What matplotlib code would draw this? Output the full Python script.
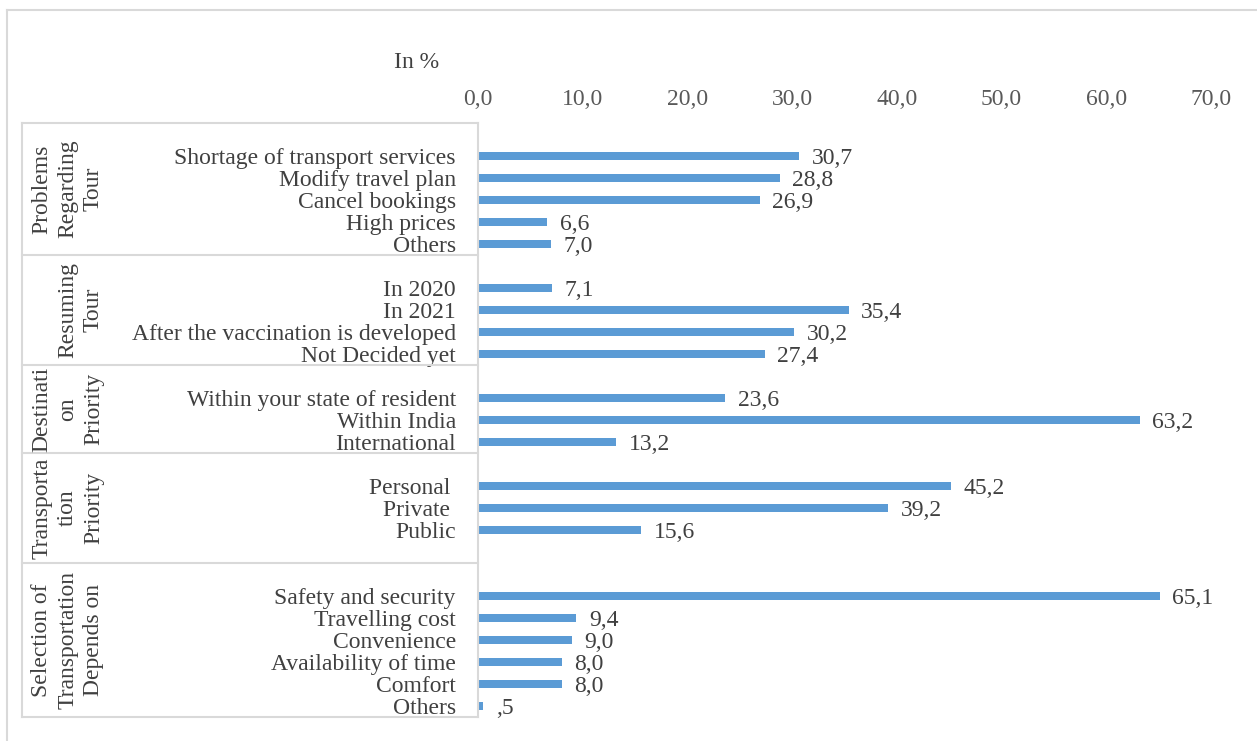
#!/usr/bin/env python3
import matplotlib.pyplot as plt
import numpy as np
from matplotlib.lines import Line2D

# grupos de la encuesta (etiqueta del grupo, categorias, porcentajes)
grupo_1 = "Problems\nRegarding\nTour"
cat_1 = ["Shortage of transport services", "Modify travel plan", "Cancel bookings",
         "High prices", "Others"]
val_1 = [30.7, 28.8, 26.9, 6.6, 7.0]

grupo_2 = "Resuming\nTour"
cat_2 = ["In 2020", "In 2021", "After the vaccination is developed", "Not Decided yet"]
val_2 = [7.1, 35.4, 30.2, 27.4]

grupo_3 = "Destinati\non\nPriority"
cat_3 = ["Within your state of resident", "Within India", "International"]
val_3 = [23.6, 63.2, 13.2]

grupo_4 = "Transporta\ntion\nPriority"
cat_4 = ["Personal ", "Private ", "Public"]
val_4 = [45.2, 39.2, 15.6]

grupo_5 = "Selection of\nTransportation\nDepends on"
cat_5 = ["Safety and security", "Travelling cost", "Convenience",
         "Availability of time", "Comfort", "Others"]
val_5 = [65.1, 9.4, 9.0, 8.0, 8.0, 0.5]

ticks_x = [0, 10, 20, 30, 40, 50, 60, 70]

AZUL = "#5B9BD5"
TEXTO = "#404040"
BORDE = "#D9D9D9"
FS = 17


def etiqueta(v):
    s = f"{v:.1f}".replace(".", ",")
    if s.startswith("0,"):
        s = s[1:]
    return s


def grafico():
    plt.rcParams["font.family"] = ["Liberation Serif", "DejaVu Serif"]
    plt.rcParams["font.size"] = FS

    # cada grupo lleva una fila vacia arriba; el cuarto tambien una abajo
    grupos = [
        (grupo_1, [""] + cat_1, [np.nan] + val_1),
        (grupo_2, [""] + cat_2, [np.nan] + val_2),
        (grupo_3, [""] + cat_3, [np.nan] + val_3),
        (grupo_4, [""] + cat_4 + [""], [np.nan] + val_4 + [np.nan]),
        (grupo_5, [""] + cat_5, [np.nan] + val_5),
    ]
    cats, vals, limites = [], [], [-0.5]
    for _, c, v in grupos:
        cats += c
        vals += v
        limites.append(len(cats) - 0.5)
    y = np.arange(len(cats))
    vals = np.array(vals, dtype=float)

    fig = plt.figure(figsize=(12.57, 7.41), dpi=100)
    ax = fig.add_axes([478 / 1257, 1 - 717 / 741, 733 / 1257, 594 / 741])

    ax.barh(y, np.nan_to_num(vals), height=0.36, color=AZUL)
    for yi, v in zip(y, vals):
        if not np.isnan(v):
            ax.annotate(etiqueta(v), (v, yi), xytext=(9, -1.5), textcoords="offset points",
                        ha="left", va="center", color=TEXTO, fontsize=FS)

    ax.set_xlim(0, 70)
    ax.set_ylim(len(cats) - 0.5, -0.5)
    ax.xaxis.tick_top()
    ax.set_xticks(ticks_x)
    ax.set_xticklabels([f"{t:.1f}".replace(".", ",") for t in ticks_x])
    ax.tick_params(axis="x", length=0, pad=9.5, colors="#595959", labelsize=FS)
    ax.set_yticks(y)
    ax.set_yticklabels(cats)
    ax.tick_params(axis="y", length=0, pad=16, colors=TEXTO, labelsize=FS)
    for s in ["top", "right", "bottom"]:
        ax.spines[s].set_visible(False)
    ax.spines["left"].set_color(BORDE)
    ax.spines["left"].set_linewidth(1.5)

    # cajas de los grupos a la izquierda
    trans = ax.get_yaxis_transform()
    x_izq = (22 - 478) / 733
    for lim in limites:
        ax.add_line(Line2D([x_izq, 0], [lim, lim], transform=trans, color=BORDE,
                           lw=1.5, clip_on=False))
    ax.add_line(Line2D([x_izq, x_izq], [limites[0], limites[-1]], transform=trans,
                       color=BORDE, lw=1.5, clip_on=False))
    x_txt = (104 - 478) / 733
    for (nombre, _, _), a, b in zip(grupos, limites[:-1], limites[1:]):
        ax.text(x_txt, (a + b) / 2, nombre, transform=trans, rotation=90,
                ha="right", va="center", multialignment="center",
                linespacing=1.3, color=TEXTO, fontsize=FS)

    fig.text(417 / 1257, 1 - 62 / 741, "In %", ha="center", va="center",
             color=TEXTO, fontsize=FS)

    # marco exterior del grafico
    fig.add_artist(Line2D([7 / 1257, 7 / 1257], [0, 1 - 10 / 741], color=BORDE, lw=1.5))
    fig.add_artist(Line2D([7 / 1257, 1], [1 - 10 / 741, 1 - 10 / 741], color=BORDE, lw=1.5))

    fig.savefig("out.png", dpi=100)


if __name__ == "__main__":
    grafico()
